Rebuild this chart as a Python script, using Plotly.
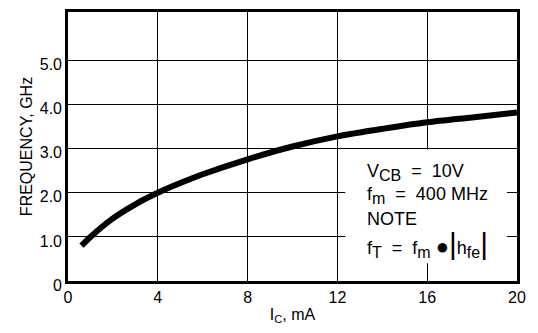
import plotly.graph_objects as go

# Collector current (mA) and transition frequency (GHz)
ic_ma = [0.6, 1.0, 2.0, 3.0, 4.0, 5.0, 6.0, 8.0, 10.0, 12.0, 14.0, 16.0, 18.0, 20.0]
freq_ghz = [0.80, 1.0, 1.42, 1.74, 2.00, 2.22, 2.42, 2.76, 3.05, 3.28, 3.45, 3.60, 3.71, 3.82]

x_ticks = [0, 4, 8, 12, 16, 20]
x_tick_text = ["0", "4", "8", "12", "16", "20"]
y_ticks = [0, 1, 2, 3, 4, 5]
y_tick_text = ["0", "1.0", "2.0", "3.0", "4.0", "5.0"]

SP = "\u00a0"


def sub(s):
    return f"<sub><span style='font-size:16px'>{s}</span></sub>"


note_lines = [
    f"V{sub('CB')}{SP}{SP}={SP}{SP}10V",
    f"f{sub('m')}{SP}{SP}={SP}{SP}400{SP}MHz",
    "NOTE",
    f"f{sub('T')}{SP}{SP}={SP}{SP}f{sub('m')}{SP}<span style='font-size:22px'>\u25CF</span>"
    f"<span style='font-size:30px'>|</span>h{sub('fe')}<span style='font-size:30px'>|</span>",
]
note_y = [2.47, 1.95, 1.41, 0.84]

FONT = "Liberation Sans, Arial, Helvetica, sans-serif"

fig = go.Figure()
fig.add_trace(go.Scatter(
    x=ic_ma, y=freq_ghz, mode="lines",
    line=dict(color="black", width=6, shape="spline", smoothing=0.8),
    hoverinfo="skip", showlegend=False,
))

# White panel behind the condition notes
fig.add_shape(type="rect", xref="x", yref="y", x0=12.35, x1=19.55, y0=0.4, y1=2.98,
              fillcolor="white", line=dict(width=0), layer="between")

for txt, yy in zip(note_lines, note_y):
    fig.add_annotation(x=13.25, y=yy, xref="x", yref="y", text=txt, showarrow=False,
                       xanchor="left", yanchor="middle", align="left",
                       font=dict(family=FONT, size=18, color="black"))

axis_common = dict(
    showgrid=True, gridcolor="black", gridwidth=1.4,
    showline=True, linecolor="black", linewidth=2.6, mirror=True,
    ticks="", zeroline=False,
    tickfont=dict(family=FONT, size=16, color="black"),
)

fig.update_xaxes(range=[0, 20], tickvals=x_ticks, ticktext=x_tick_text,
                 title=dict(text="I<sub>C</sub>, mA", font=dict(family=FONT, size=16, color="black"),
                            standoff=4),
                 **axis_common)
fig.update_yaxes(range=[0, 6.1], tickvals=y_ticks, ticktext=y_tick_text,
                 ticklabelshift=4,
                 title=dict(text="FREQUENCY, GHz", font=dict(family=FONT, size=16, color="black"),
                            standoff=4),
                 **axis_common)

fig.update_layout(
    width=538, height=333,
    margin=dict(l=68, r=21, t=9, b=52),
    paper_bgcolor="white", plot_bgcolor="white",
    font=dict(family=FONT, color="black"),
)

fig.write_html("out.html")
